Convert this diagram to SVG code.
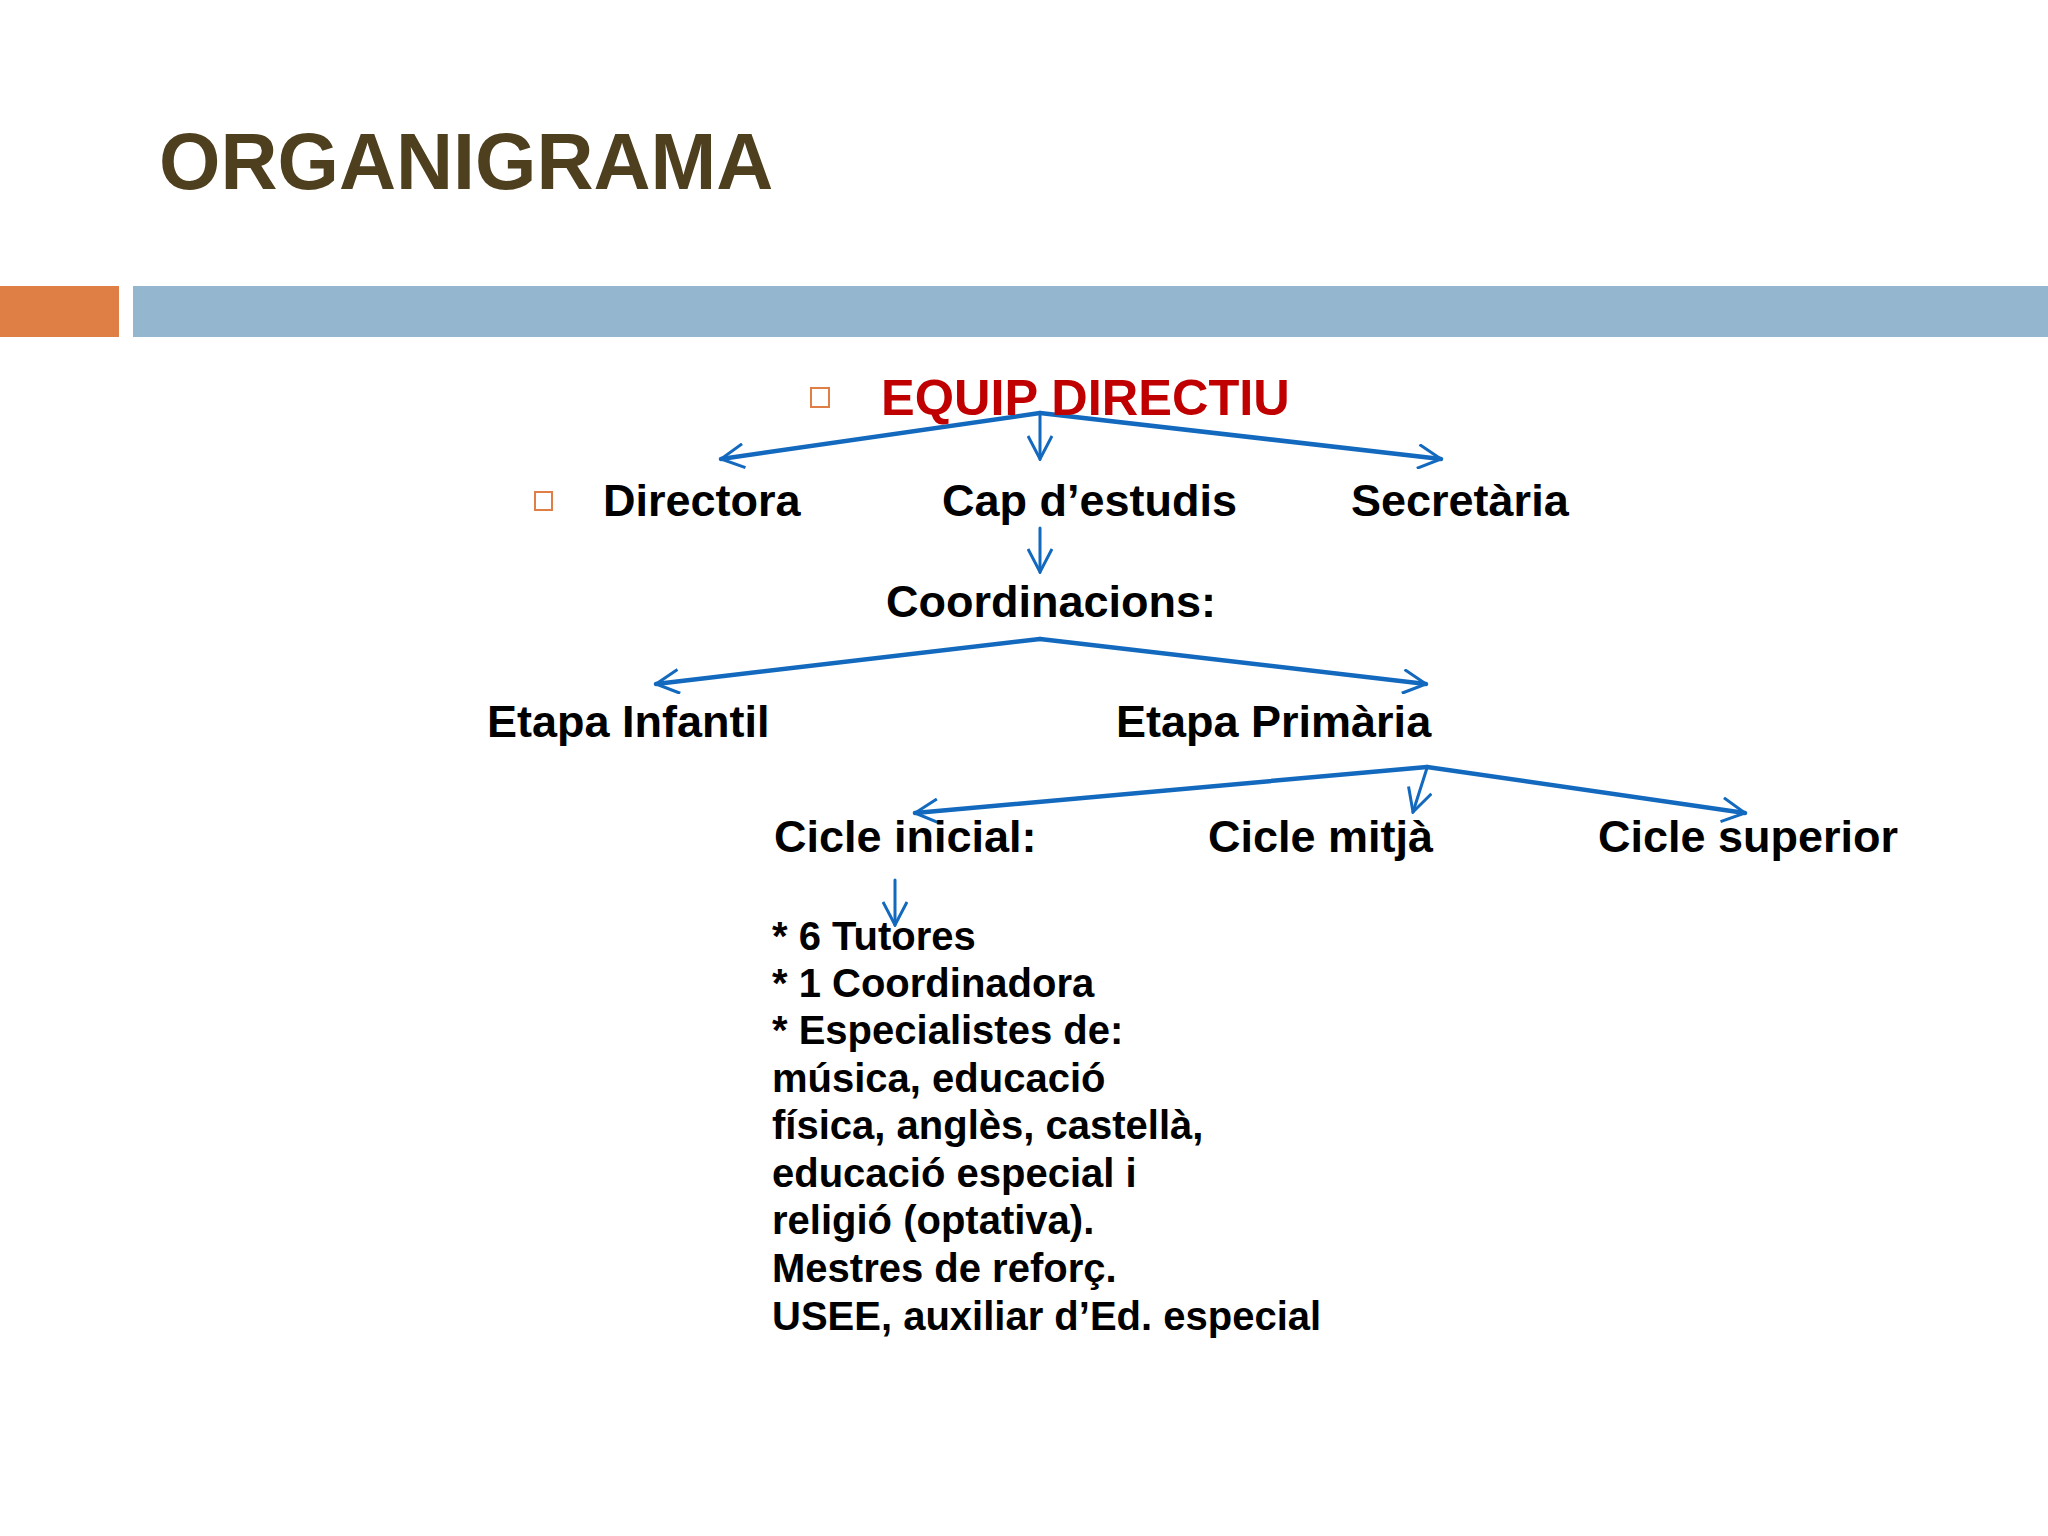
<svg xmlns="http://www.w3.org/2000/svg" width="2048" height="1536" viewBox="0 0 2048 1536">
<style>
text{font-family:"Liberation Sans",Arial,sans-serif;font-weight:bold}
.t{font-size:45px;fill:#000}
.l{font-size:40px;fill:#000}
.c{fill:none;stroke:#1369BE;stroke-linecap:round}
.d{stroke-width:4.5}
.v{stroke-width:3}
.bul{fill:none;stroke:#E07F45;stroke-width:2}
</style>
<defs>
<marker id="ah" viewBox="0 0 26 26" refX="24" refY="13" markerWidth="26" markerHeight="26" markerUnits="userSpaceOnUse" orient="auto">
<path d="M1,1 L24,13 L1,25" fill="none" stroke="#1369BE" stroke-width="3"/>
</marker>
</defs>
<rect width="2048" height="1536" fill="#FFFFFF"/>
<g id="header">
<text x="159" y="189" font-size="79" fill="#4E3F1E">ORGANIGRAMA</text>
<rect x="0" y="286" width="119" height="51" fill="#E07F45"/>
<rect x="133" y="286" width="1915" height="51" fill="#95B6CF"/>
</g>
<g id="connectors">
<line class="c d" x1="1040" y1="413" x2="721" y2="459" marker-end="url(#ah)"/>
<line class="c d" x1="1040" y1="413" x2="1441" y2="459" marker-end="url(#ah)"/>
<line class="c v" x1="1040" y1="414" x2="1040" y2="459" marker-end="url(#ah)"/>
<line class="c v" x1="1040" y1="528" x2="1040" y2="572" marker-end="url(#ah)"/>
<line class="c d" x1="1040" y1="639" x2="656" y2="684" marker-end="url(#ah)"/>
<line class="c d" x1="1040" y1="639" x2="1426" y2="684" marker-end="url(#ah)"/>
<line class="c d" x1="1427" y1="767" x2="915" y2="813" marker-end="url(#ah)"/>
<line class="c v" x1="1427" y1="768" x2="1413" y2="812" marker-end="url(#ah)"/>
<line class="c d" x1="1427" y1="767" x2="1745" y2="813" marker-end="url(#ah)"/>
<line class="c v" x1="895" y1="880" x2="895" y2="925" marker-end="url(#ah)"/>
</g>
<g id="equip-directiu">
<rect class="bul" x="811" y="388" width="18" height="19"/>
<text x="881" y="415" font-size="50.5" fill="#C00000">EQUIP DIRECTIU</text>
</g>
<g id="directora">
<rect class="bul" x="535" y="492" width="17" height="18"/>
<text class="t" x="603" y="516">Directora</text>
</g>
<g id="cap-estudis"><text class="t" x="942" y="516">Cap d’estudis</text></g>
<g id="secretaria"><text class="t" x="1351" y="516">Secretària</text></g>
<g id="coordinacions"><text class="t" x="886" y="617">Coordinacions:</text></g>
<g id="etapa-infantil"><text class="t" x="487" y="737">Etapa Infantil</text></g>
<g id="etapa-primaria"><text class="t" x="1116" y="737">Etapa Primària</text></g>
<g id="cicle-inicial"><text class="t" x="774" y="852">Cicle inicial:</text></g>
<g id="cicle-mitja"><text class="t" x="1208" y="852">Cicle mitjà</text></g>
<g id="cicle-superior"><text class="t" x="1598" y="852">Cicle superior</text></g>
<g id="personal">
<text class="l" x="772" y="950">* 6 Tutores</text>
<text class="l" x="772" y="997">* 1 Coordinadora</text>
<text class="l" x="772" y="1044">* Especialistes de:</text>
<text class="l" x="772" y="1092">música, educació</text>
<text class="l" x="772" y="1139">física, anglès, castellà,</text>
<text class="l" x="772" y="1187">educació especial i</text>
<text class="l" x="772" y="1234">religió (optativa).</text>
<text class="l" x="772" y="1282">Mestres de reforç.</text>
<text class="l" x="772" y="1330">USEE, auxiliar d’Ed. especial</text>
</g>
</svg>
